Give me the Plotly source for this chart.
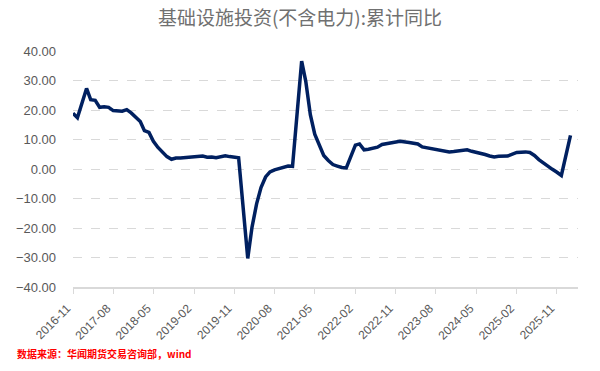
import plotly.graph_objects as go

months = [
    "2016-11", "2016-12",
    "2017-02", "2017-03", "2017-04", "2017-05", "2017-06", "2017-07", "2017-08", "2017-09", "2017-10", "2017-11", "2017-12",
    "2018-02", "2018-03", "2018-04", "2018-05", "2018-06", "2018-07", "2018-08", "2018-09", "2018-10", "2018-11", "2018-12",
    "2019-02", "2019-03", "2019-04", "2019-05", "2019-06", "2019-07", "2019-08", "2019-09", "2019-10", "2019-11", "2019-12",
    "2020-02", "2020-03", "2020-04", "2020-05", "2020-06", "2020-07", "2020-08", "2020-09", "2020-10", "2020-11", "2020-12",
    "2021-02", "2021-03", "2021-04", "2021-05", "2021-06", "2021-07", "2021-08", "2021-09", "2021-10", "2021-11", "2021-12",
    "2022-02", "2022-03", "2022-04", "2022-05", "2022-06", "2022-07", "2022-08", "2022-09", "2022-10", "2022-11", "2022-12",
    "2023-02", "2023-03", "2023-04", "2023-05", "2023-06", "2023-07", "2023-08", "2023-09", "2023-10", "2023-11", "2023-12",
    "2024-02", "2024-03", "2024-04", "2024-05", "2024-06", "2024-07", "2024-08", "2024-09", "2024-10", "2024-11", "2024-12",
    "2025-02", "2025-03", "2025-04", "2025-05", "2025-06", "2025-07", "2025-08", "2025-09", "2025-10", "2025-11", "2025-12",
    "2026-02",
]
values = [
    18.9, 17.4,
    27.3, 23.5, 23.3, 20.9, 21.1, 20.9, 19.8, 19.8, 19.6, 20.1, 19.0,
    16.1, 13.0, 12.4, 9.4, 7.3, 5.7, 4.2, 3.3, 3.7, 3.7, 3.8,
    4.3, 4.4, 4.4, 4.0, 4.1, 3.8, 4.2, 4.5, 4.2, 4.0, 3.8,
    -30.3, -19.7, -11.8, -6.3, -2.7, -1.0, -0.3, 0.2, 0.7, 1.0, 0.9,
    36.6, 29.7, 18.4, 11.8, 7.8, 4.6, 2.9, 1.5, 1.0, 0.5, 0.4,
    8.1, 8.5, 6.5, 6.7, 7.1, 7.4, 8.3, 8.6, 8.7, 8.9, 9.4,
    9.0, 8.8, 8.5, 7.5, 7.2, 6.8, 6.4, 6.2, 5.9, 5.8, 5.9,
    6.3, 6.5, 6.0, 5.7, 5.4, 4.9, 4.4, 4.1, 4.3, 4.2, 4.4,
    5.6, 5.8, 5.8, 5.6, 4.6, 3.2, 2.0, 1.1, -0.1, -1.1, -2.2,
    11.4,
]
y_ticks = [-40, -30, -20, -10, 0, 10, 20, 30, 40]
title_text = "基础设施投资(不含电力):累计同比"
source_text = "数据来源：华闻期货交易咨询部，wind"

dates = [m + "-01" for m in months]

fig = go.Figure()
fig.add_trace(go.Scatter(
    x=dates, y=values, mode="lines",
    line=dict(color="#002060", width=3.5, shape="linear"),
    hoverinfo="skip", showlegend=False,
))

fig.update_layout(
    width=600, height=371,
    margin=dict(l=73, r=22, t=51, b=84),
    paper_bgcolor="white", plot_bgcolor="white",
    title=dict(text=title_text, x=0.5, xanchor="center", y=0.95, yanchor="middle",
               font=dict(family="Noto Sans CJK SC", size=19, color="#707070")),
    xaxis=dict(
        type="date",
        range=["2016-11-01", "2026-03-24"],
        tick0="2016-11-01", dtick="M9", tickformat="%Y-%m",
        tickangle=-45,
        ticks="outside", ticklen=5, tickcolor="#D9D9D9", tickwidth=1,
        showline=True, linecolor="#D9D9D9", linewidth=1.5,
        showgrid=False, zeroline=False,
        ticklabelshift=-6, ticklabelstandoff=3,
        tickfont=dict(family="Liberation Sans", size=12, color="#595959"),
    ),
    yaxis=dict(
        range=[-40, 40],
        tickvals=y_ticks, tickformat=".2f",
        showgrid=True, gridcolor="#D9D9D9", griddash="dash", gridwidth=1,
        zeroline=False, showline=False,
        ticks="", ticklabelstandoff=16,
        tickfont=dict(family="Liberation Sans", size=13, color="#595959"),
    ),
)

fig.add_annotation(
    text="<b>" + source_text + "</b>", xref="paper", yref="paper",
    x=-0.115, xanchor="left", y=-0.24, yanchor="top",
    showarrow=False,
    font=dict(family="Noto Sans CJK SC", size=10, color="#FF0000"),
)
fig.write_html("out.html", config={"displayModeBar": False},
               post_script="document.body.style.margin='0';")
